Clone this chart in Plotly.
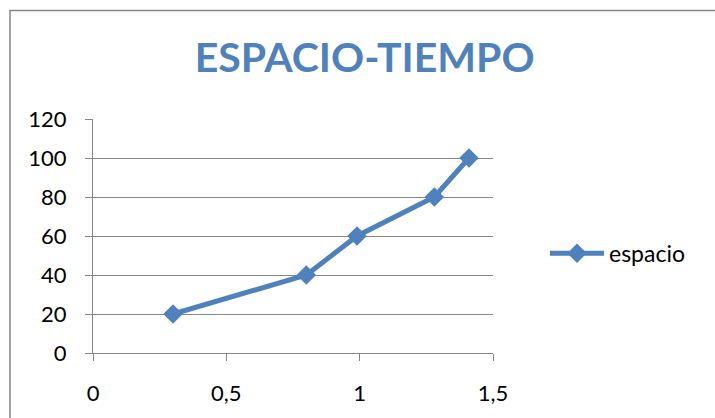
import plotly.graph_objects as go

tiempo = [0.3, 0.8, 0.99, 1.28, 1.41]
espacio = [20, 40, 60, 80, 100]
x_ticks = [0, 0.5, 1, 1.5]
y_ticks = [0, 20, 40, 60, 80, 100, 120]

BLUE = "#4F81BD"
GRAY = "#868686"

fig = go.Figure()
fig.add_trace(go.Scatter(
    x=tiempo, y=espacio, mode="lines+markers", name="espacio",
    line=dict(color=BLUE, width=5),
    marker=dict(symbol="diamond", size=15, color=BLUE),
))

fig.update_layout(
    width=715, height=418,
    margin=dict(l=93, r=222, t=119, b=62),
    paper_bgcolor="white", plot_bgcolor="white",
    separators=",.",
    font=dict(family="Lato", size=22, color="black"),
    title=dict(text="<b>ESPACIO-TIEMPO</b>", font=dict(family="Lato", size=41, color=BLUE),
               xref="container", x=0.51, xanchor="center",
               yref="container", y=0.861, yanchor="middle"),
    showlegend=True,
    legend=dict(x=1.13, xanchor="left", y=0.426, yanchor="middle",
                font=dict(family="Lato", size=23), itemwidth=54,
                bgcolor="rgba(0,0,0,0)"),
    xaxis=dict(range=[0, 1.5], tickvals=x_ticks, showgrid=False, zeroline=False,
               showline=True, linecolor=GRAY, linewidth=1,
               ticks="outside", ticklen=7, tickcolor=GRAY, ticklabelstandoff=14),
    yaxis=dict(range=[0, 120], tickvals=y_ticks, showgrid=True, gridcolor=GRAY, gridwidth=1,
               zeroline=False, showline=True, linecolor=GRAY, linewidth=1,
               ticks="outside", ticklen=7, tickcolor=GRAY, ticklabelstandoff=14),
    shapes=[dict(type="rect", xref="paper", yref="paper",
                 x0=-0.2075, x1=2.0, y0=-0.5, y1=1.464,
                 line=dict(color=GRAY, width=1.5), fillcolor="rgba(0,0,0,0)", layer="below")],
)

fig.write_html("out.html")
